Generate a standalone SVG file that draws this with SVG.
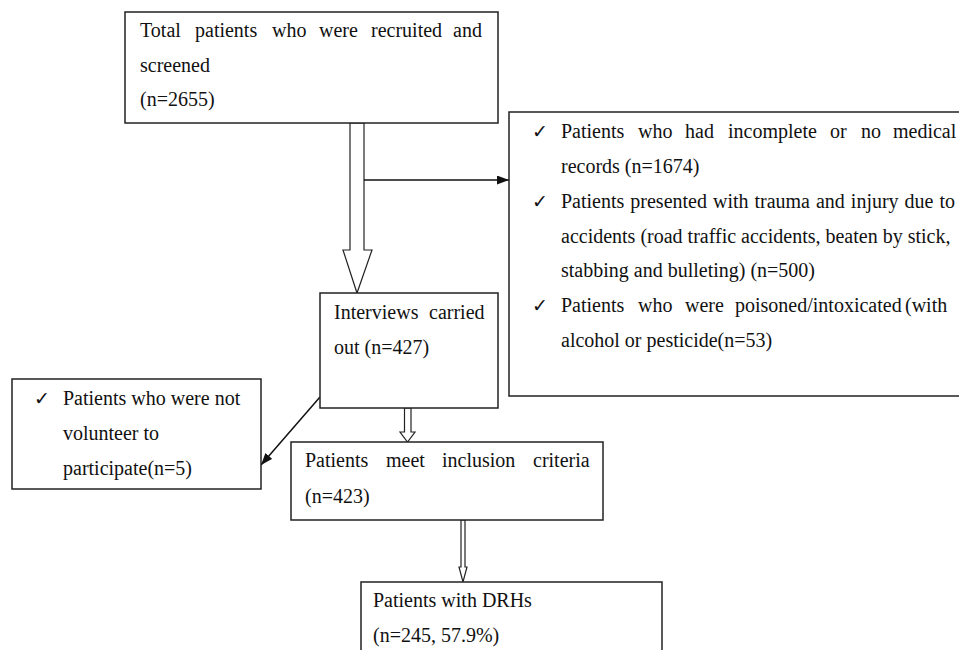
<svg xmlns="http://www.w3.org/2000/svg" width="959" height="650" viewBox="0 0 959 650">
<style>
.box{fill:#fff;stroke:#222;stroke-width:1.5}
.blk{fill:#fff;stroke:#222;stroke-width:1.2}
.t{font-family:"Liberation Serif","Times New Roman",serif;font-size:20px;fill:#111}
.ck{font-family:"DejaVu Sans",sans-serif;font-size:19px;fill:#111}
.ln{stroke:#111;stroke-width:1.5;fill:none}
</style>
<defs>
<marker id="ah2" viewBox="0 0 10 10" refX="10" refY="5" markerWidth="12" markerHeight="9" markerUnits="userSpaceOnUse" orient="auto" preserveAspectRatio="none"><path d="M0,0 L10,5 L0,10 z" fill="#111"/></marker>
</defs>
<rect width="959" height="650" fill="#fff"/>
<g id="connectors">
<polygon class="blk" points="350,123 350,250 343,250 357,293 372,250 364,250 364,123"/>
<line class="ln" x1="364" y1="180" x2="509" y2="180" marker-end="url(#ah2)"/>
<line class="ln" x1="320" y1="397" x2="261" y2="465" marker-end="url(#ah2)"/>
<polygon class="blk" points="404.5,408 404.5,432 400,432 407.5,442 415,432 411,432 411,408"/>
<polygon class="blk" points="461,520 461,567 459,567 463,582 467,567 465,567 465,520"/>
</g>
<g id="n1">
<rect class="box" x="125" y="12" width="373" height="111"/>
<text class="t" y="37"><tspan x="140">Total</tspan><tspan x="195">patients</tspan><tspan x="272">who</tspan><tspan x="319">were</tspan><tspan x="371">recruited</tspan><tspan x="453">and</tspan></text>
<text class="t" x="140" y="72">screened</text>
<text class="t" x="140" y="106">(n=2655)</text>
</g>
<g id="n2">
<rect class="box" x="509" y="112" width="460" height="284"/>
<text class="ck" x="532" y="138">✓</text>
<text class="t" y="138"><tspan x="561">Patients</tspan><tspan x="638">who</tspan><tspan x="685">had</tspan><tspan x="728">incomplete</tspan><tspan x="830">or</tspan><tspan x="861">no</tspan><tspan x="893">medical</tspan></text>
<text class="t" x="561" y="173">records (n=1674)</text>
<text class="ck" x="532" y="208">✓</text>
<text class="t" x="561" y="208" textLength="394" lengthAdjust="spacing" word-spacing="1">Patients presented with trauma and injury due to</text>
<text class="t" x="561" y="243">accidents (road traffic accidents, beaten by stick,</text>
<text class="t" x="561" y="277">stabbing and bulleting) (n=500)</text>
<text class="ck" x="532" y="312">✓</text>
<text class="t" y="312"><tspan x="561">Patients</tspan><tspan x="638">who</tspan><tspan x="685">were</tspan><tspan x="735">poisoned/intoxicated</tspan><tspan x="905">(with</tspan></text>
<text class="t" x="561" y="347">alcohol or pesticide(n=53)</text>
</g>
<g id="n3">
<rect class="box" x="320" y="293" width="178" height="115"/>
<text class="t" y="319"><tspan x="334">Interviews</tspan><tspan x="429">carried</tspan></text>
<text class="t" x="334" y="354">out (n=427)</text>
</g>
<g id="n4">
<rect class="box" x="12" y="379" width="249" height="110"/>
<text class="ck" x="34" y="405">✓</text>
<text class="t" x="63" y="405">Patients who were not</text>
<text class="t" x="63" y="440">volunteer to</text>
<text class="t" x="63" y="475">participate(n=5)</text>
</g>
<g id="n5">
<rect class="box" x="291" y="442" width="312" height="78"/>
<text class="t" y="467"><tspan x="305">Patients</tspan><tspan x="386">meet</tspan><tspan x="442">inclusion</tspan><tspan x="533">criteria</tspan></text>
<text class="t" x="305" y="503">(n=423)</text>
</g>
<g id="n6">
<rect class="box" x="361" y="582" width="301" height="80"/>
<text class="t" x="373" y="607">Patients with DRHs</text>
<text class="t" x="373" y="642">(n=245, 57.9%)</text>
</g>
</svg>
